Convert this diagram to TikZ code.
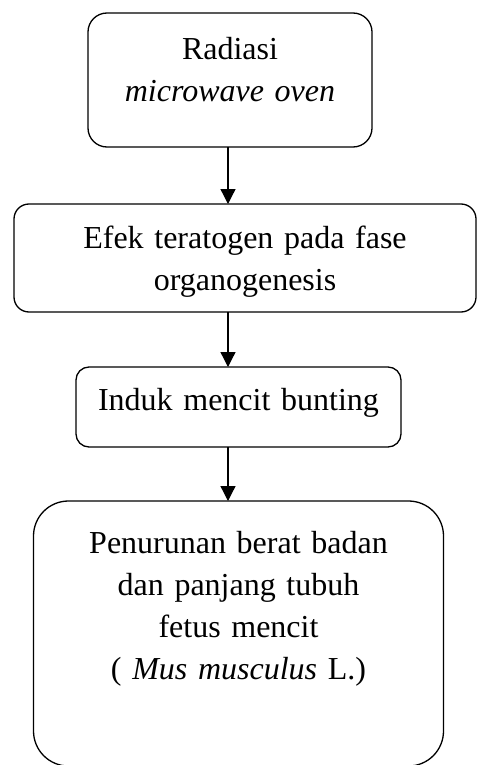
\documentclass[tikz,border=0pt]{standalone}
\usepackage{fontspec}
\setmainfont{Liberation Serif}
\usetikzlibrary{arrows.meta,positioning}

\begin{document}
\begin{tikzpicture}[
  box/.style={draw, line width=0.65pt, rounded corners=#1, inner sep=0pt,
              outer sep=0pt, align=center, font=\fontsize{16}{21}\selectfont},
  arr/.style={-{Triangle[length=7.5pt,width=7.5pt]}, line width=0.65pt}
]
\useasboundingbox (0,0) rectangle (238.5pt,-382.5pt);

% Radiasi
\node[box=9.5pt, text width=142pt, text height=23.5pt, text depth=43.5pt,
      anchor=north] (radiasi) at (115pt,-6.5pt)
     {Radiasi\\ \textit{microwave oven}};

% Efek teratogen
\node[box=7.5pt, text width=231pt, text height=22pt, text depth=32pt,
      below=28.5pt of radiasi, xshift=7.5pt] (efek)
     {Efek teratogen pada fase\\ organogenesis};

% Induk mencit
\node[box=6.5pt, text width=162.5pt, text height=21.5pt, text depth=18.5pt,
      below=27.5pt of efek, xshift=-3.25pt] (induk) {Induk mencit bunting};

% Fetus
\node[box=17.5pt, text width=205pt, text height=26pt, text depth=106.5pt,
      below=27pt of induk] (fetus)
     {Penurunan berat badan\\ dan panjang tubuh\\ fetus mencit\\
      ( \textit{Mus musculus} L.)};

% Arrows
\coordinate (spine) at (114pt,0);
\draw[arr] (spine |- radiasi.south) -- (spine |- efek.north);
\draw[arr] (spine |- efek.south) -- (spine |- induk.north);
\draw[arr] (spine |- induk.south) -- (spine |- fetus.north);

\end{tikzpicture}
\end{document}
